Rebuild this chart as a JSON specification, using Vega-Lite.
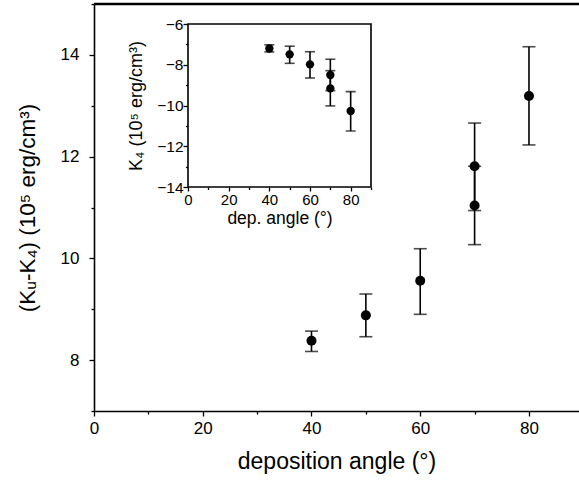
{
  "$schema": "https://vega.github.io/schema/vega-lite/v6.json",
  "autosize": {"type": "none"},
  "padding": {"left": 94, "top": 4, "right": 0, "bottom": 72},
  "width": 485,
  "height": 407,
  "background": "white",
  "view": {"stroke": "transparent"},
  "config": {
    "view": {"stroke": "transparent", "strokeWidth": 0},
    "style": {"cell": {"stroke": "transparent", "strokeWidth": 0}},
    "font": "Liberation Sans",
    "axis": {"grid": false, "domainColor": "black", "tickColor": "black", "labelColor": "black", "titleColor": "black", "labelFont": "Liberation Sans", "titleFont": "Liberation Sans", "titleFontWeight": "normal", "domainWidth": 1.6, "tickWidth": 1.3}
  },
  "datasets": {
    "main": [
      {"angle": 40, "val": 8.38, "lo": 8.17, "hi": 8.57},
      {"angle": 50, "val": 8.88, "lo": 8.46, "hi": 9.30},
      {"angle": 60, "val": 9.56, "lo": 8.90, "hi": 10.19},
      {"angle": 70, "val": 11.04, "lo": 10.27, "hi": 11.81},
      {"angle": 70, "val": 11.81, "lo": 10.94, "hi": 12.66},
      {"angle": 80, "val": 13.19, "lo": 12.23, "hi": 14.16}
    ],
    "inset": [
      {"angle": 40, "val": -7.2, "lo": -7.37, "hi": -7.02},
      {"angle": 50, "val": -7.49, "lo": -7.93, "hi": -7.09},
      {"angle": 60, "val": -7.98, "lo": -8.65, "hi": -7.36},
      {"angle": 70, "val": -8.5, "lo": -9.27, "hi": -7.73},
      {"angle": 70, "val": -9.16, "lo": -10.02, "hi": -8.29},
      {"angle": 80, "val": -10.27, "lo": -11.25, "hi": -9.32}
    ],
    "frame": [{"x0": 0, "x1": 90, "y0": -14, "y1": -6}]
  },
  "layer": [
    {
      "layer": [
        {
          "data": {"name": "main"},
          "mark": {"type": "errorbar", "ticks": {"size": 13, "thickness": 1.6, "color": "black"}, "thickness": 1.6, "color": "black"},
          "encoding": {
            "x": {"field": "angle", "type": "quantitative", "title": "deposition angle (°)", "scale": {"domain": [0, 89.2], "nice": false}},
            "y": {"field": "lo", "type": "quantitative", "title": "(Kᵤ-K₄) (10⁵ erg/cm³)", "scale": {"domain": [7, 15], "nice": false, "zero": false}},
            "y2": {"field": "hi"}
          }
        },
        {
          "data": {"name": "main"},
          "mark": {"type": "point", "filled": true, "shape": "circle", "size": 100, "color": "black", "opacity": 1},
          "encoding": {
            "x": {"field": "angle", "type": "quantitative", "title": "deposition angle (°)",
              "axis": {"orient": "bottom", "values": [0, 10, 20, 30, 40, 50, 60, 70, 80], "labelExpr": "datum.value % 20 === 0 ? datum.label : ''", "tickSize": {"condition": {"test": "datum.value % 20 === 0", "value": 5}, "value": 3}, "labelFontSize": 17, "labelPadding": 4, "titleFontSize": 23, "titlePadding": 14, "labelFlush": false}},
            "y": {"field": "val", "type": "quantitative", "title": "(Kᵤ-K₄) (10⁵ erg/cm³)",
              "axis": {"orient": "left", "values": [7, 8, 9, 10, 11, 12, 13, 14, 15], "labelExpr": "datum.value % 2 === 0 ? datum.label : ''", "tickSize": {"condition": {"test": "datum.value % 2 === 0", "value": 5}, "value": 3}, "labelFontSize": 17, "labelPadding": 10, "titleFontSize": 22.5, "titlePadding": 21}}
          }
        },
        {
          "data": {"name": "frame"},
          "mark": {"type": "rule", "color": "black", "strokeWidth": 2.5},
          "encoding": {"y": {"datum": 15, "type": "quantitative"}}
        }
      ]
    },
    {
      "layer": [
        {
          "data": {"name": "frame"},
          "mark": {"type": "rect", "fill": "white", "stroke": "black", "strokeWidth": 1.6},
          "encoding": {
            "x": {"field": "x0", "type": "quantitative", "scale": {"domain": [0, 90], "range": [94, 277], "nice": false}, "title": "dep. angle (°)",
              "axis": {"orient": "bottom", "offset": -224, "values": [0, 10, 20, 30, 40, 50, 60, 70, 80, 90], "labelExpr": "datum.value % 20 === 0 && datum.value < 90 ? datum.label : ''", "tickSize": {"condition": {"test": "datum.value % 20 === 0", "value": 4}, "value": 2.5}, "labelFontSize": 15, "labelPadding": 1, "titleFontSize": 17.5, "titlePadding": 2, "labelFlush": false, "domain": false}},
            "x2": {"field": "x1"},
            "y": {"field": "y0", "type": "quantitative", "scale": {"domain": [-14, -6], "range": [183, 20], "nice": false, "zero": false}, "title": "K₄ (10⁵ erg/cm³)",
              "axis": {"orient": "left", "offset": -94, "values": [-14, -13, -12, -11, -10, -9, -8, -7, -6], "labelExpr": "datum.value % 2 === 0 ? datum.label : ''", "tickSize": {"condition": {"test": "datum.value % 2 === 0", "value": 5}, "value": 2.5}, "labelFontSize": 15.5, "labelPadding": 0, "titleFontSize": 18, "titlePadding": 11, "domain": false}},
            "y2": {"field": "y1"}
          }
        },
        {
          "data": {"name": "inset"},
          "mark": {"type": "errorbar", "ticks": {"size": 10, "thickness": 1.6, "color": "black"}, "thickness": 1.6, "color": "black"},
          "encoding": {
            "x": {"field": "angle", "type": "quantitative", "title": "dep. angle (°)"},
            "y": {"field": "lo", "type": "quantitative", "title": "K₄ (10⁵ erg/cm³)"},
            "y2": {"field": "hi"}
          }
        },
        {
          "data": {"name": "inset"},
          "mark": {"type": "point", "filled": true, "shape": "circle", "size": 70, "color": "black", "opacity": 1},
          "encoding": {
            "x": {"field": "angle", "type": "quantitative", "title": "dep. angle (°)"},
            "y": {"field": "val", "type": "quantitative", "title": "K₄ (10⁵ erg/cm³)"}
          }
        }
      ]
    }
  ],
  "resolve": {"scale": {"x": "independent", "y": "independent"}, "axis": {"x": "independent", "y": "independent"}}
}
